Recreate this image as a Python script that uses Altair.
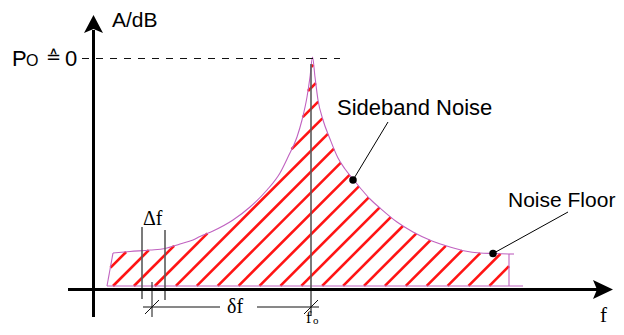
import altair as alt
import numpy as np
import pandas as pd

# ---------------- data (diagram coordinates) ----------------
# phase-noise spectrum outline (left flank, peak, right flank)
curve_x = [113, 130, 150, 165, 180, 193, 200, 213, 233, 250, 267, 280, 288, 297, 302, 307, 310, 312.5,
           315, 318, 323, 330, 338, 345, 353, 362, 370, 380, 397, 413, 432, 450, 465, 480, 493, 509]
curve_y = [253, 251.5, 250, 248.5, 244, 240, 236.5, 231, 220, 207, 190, 173, 157, 137, 120, 97, 77, 57,
           77, 100, 120, 139, 158, 169, 179, 190, 199, 208, 222, 232, 241, 247, 251, 253, 253.5, 254]

# outline closing edges: left edge, bottom, right edge, small right stub
edge_x1 = [113, 107, 509, 509]
edge_y1 = [253, 286, 254, 254]
edge_x2 = [107, 523, 509, 514]
edge_y2 = [286, 286, 286, 254]

baseline_level = 286
left_edge_top = (113, 253)
left_edge_bottom = (107, 286)
right_edge_x = 509
hatch_start = 113
hatch_step = 20.9

# axes
x_axis = dict(x1=68, x2=600, y=289.5, tip=603)
y_axis = dict(x=93.5, y1=317, y2=30, tip=25)

# reference level 0 dB (dashed)
ref_x1, ref_x2, ref_y = 82, 340, 58.5

# gray marker lines: f0, Δf pair
gray_x = [311, 142, 165]
gray_y1 = [64, 227, 230]
gray_y2 = [316, 299, 300]

# black dimension lines for δf
dim_x1 = [152, 143, 257, 145, 304]
dim_y1 = [282, 307, 307, 314, 314]
dim_x2 = [152, 220, 319, 159, 318]
dim_y2 = [317, 307, 307, 300, 300]

# annotation dots and leader lines
dot_x = [353, 493]
dot_y = [180, 253.5]
leader_x2 = [388, 568]
leader_y2 = [122, 212]

# text labels
sans_text = ["A/dB", "P", "O", "0", "Sideband Noise", "Noise Floor"]
sans_x = [112, 12, 26, 65, 337, 508]
sans_y = [27, 66, 66, 66, 115, 207]
sans_size = [21, 22, 16, 22, 22, 21]

serif_text = ["Δf", "δf", "f", "f", "o"]
serif_x = [143, 227, 600, 306, 313]
serif_y = [225, 313, 322, 322.5, 324]
serif_size = [20, 20, 21, 16, 11]

corr_text = ["≙"]
corr_x = [53.5]
corr_y = [63]

# ---------------- scales ----------------
xs = alt.Scale(domain=[8, 616], nice=False, zero=False)
ys = alt.Scale(domain=[8, 327], reverse=True, nice=False, zero=False)


def X(f="x"):
    return alt.X(f"{f}:Q", scale=xs, axis=None)


def Y(f="y"):
    return alt.Y(f"{f}:Q", scale=ys, axis=None)


# ---------------- hatch (clipped diagonal lines) ----------------
cx = np.array(curve_x, float)
cy = np.array(curve_y, float)


def left_x(y):
    (xt, yt), (xb, yb) = left_edge_top, left_edge_bottom
    return xb + (yb - y) * (xt - xb) / (yb - yt)


segs = []
for k in range(-2, 21):
    x0 = hatch_start + hatch_step * k
    xx = np.arange(x0 - 40, x0 + 300, 0.2)
    yy = baseline_level - (xx - x0)
    inside = (yy <= baseline_level) & (yy >= np.interp(xx, cx, cy)) & (xx >= left_x(yy)) & \
             (xx <= right_edge_x) & (xx >= cx.min() - 6)
    idx = np.where(inside)[0]
    if len(idx) == 0:
        continue
    runs = np.split(idx, np.where(np.diff(idx) > 1)[0] + 1)
    for r in runs:
        if len(r) < 5:
            continue
        segs.append(dict(x=xx[r[0]], y=yy[r[0]], x2=xx[r[-1]], y2=yy[r[-1]]))
hatch_df = pd.DataFrame(segs)

hatch = alt.Chart(hatch_df).mark_rule(color="#ff1414", strokeWidth=2.6, strokeCap="butt").encode(
    x=X(), y=Y(), x2="x2:Q", y2="y2:Q")

curve = alt.Chart(pd.DataFrame({"x": curve_x, "y": curve_y})).mark_line(
    color="#c062c0", strokeWidth=1.1, interpolate="monotone").encode(x=X(), y=Y())

edges = alt.Chart(pd.DataFrame({"x": edge_x1, "y": edge_y1, "x2": edge_x2, "y2": edge_y2})).mark_rule(
    color="#c062c0", strokeWidth=1.1).encode(x=X(), y=Y(), x2="x2:Q", y2="y2:Q")

gray = alt.Chart(pd.DataFrame({"x": gray_x, "y": gray_y1, "y2": gray_y2})).mark_rule(
    color="#5a5a5a", strokeWidth=1.6).encode(x=X(), y=Y(), y2="y2:Q")

dims = alt.Chart(pd.DataFrame({"x": dim_x1, "y": dim_y1, "x2": dim_x2, "y2": dim_y2})).mark_rule(
    color="#111111", strokeWidth=1).encode(x=X(), y=Y(), x2="x2:Q", y2="y2:Q")

ref = alt.Chart(pd.DataFrame({"x": [ref_x1], "x2": [ref_x2], "y": [ref_y]})).mark_rule(
    color="#111111", strokeWidth=1, strokeDash=[7, 7]).encode(x=X(), x2="x2:Q", y=Y())

xaxis_line = alt.Chart(pd.DataFrame({"x": [x_axis["x1"]], "x2": [x_axis["x2"]], "y": [x_axis["y"]]})).mark_rule(
    color="black", strokeWidth=3).encode(x=X(), x2="x2:Q", y=Y())
yaxis_line = alt.Chart(pd.DataFrame({"x": [y_axis["x"]], "y": [y_axis["y1"]], "y2": [y_axis["y2"]]})).mark_rule(
    color="black", strokeWidth=3).encode(x=X(), y=Y(), y2="y2:Q")

arrow_right = "M1,0 L-1,-0.95 L-0.6,0 L-1,0.95 Z"
arrow_up = "M0,-1 L0.95,0.8 L0,0.4 L-0.95,0.8 Z"
xhead = alt.Chart(pd.DataFrame({"x": [x_axis["tip"]], "y": [x_axis["y"]]})).mark_point(
    shape=arrow_right, filled=True, size=400, color="black", opacity=1, strokeWidth=0).encode(x=X(), y=Y())
yhead = alt.Chart(pd.DataFrame({"x": [y_axis["x"]], "y": [y_axis["tip"]]})).mark_point(
    shape=arrow_up, filled=True, size=400, color="black", opacity=1, strokeWidth=0).encode(x=X(), y=Y())

leaders = alt.Chart(pd.DataFrame({"x": dot_x, "y": dot_y, "x2": leader_x2, "y2": leader_y2})).mark_rule(
    color="black", strokeWidth=1).encode(x=X(), y=Y(), x2="x2:Q", y2="y2:Q")
dots = alt.Chart(pd.DataFrame({"x": dot_x, "y": dot_y})).mark_point(
    shape="circle", filled=True, size=56, color="black", opacity=1).encode(x=X(), y=Y())

sans = alt.Chart(pd.DataFrame({"t": sans_text, "x": sans_x, "y": sans_y, "s": sans_size})).mark_text(
    font="Liberation Sans", align="left", baseline="alphabetic", color="black").encode(
    x=X(), y=Y(), text="t:N", size=alt.Size("s:Q", scale=None))
serif = alt.Chart(pd.DataFrame({"t": serif_text, "x": serif_x, "y": serif_y, "s": serif_size})).mark_text(
    font="Liberation Serif", align="left", baseline="alphabetic", color="black").encode(
    x=X(), y=Y(), text="t:N", size=alt.Size("s:Q", scale=None))
corr = alt.Chart(pd.DataFrame({"t": corr_text, "x": corr_x, "y": corr_y})).mark_text(
    font="DejaVu Sans", align="center", baseline="alphabetic", color="black", fontSize=18).encode(
    x=X(), y=Y(), text="t:N")

chart = alt.layer(
    hatch, curve, edges, gray, dims, ref, xaxis_line, yaxis_line, xhead, yhead,
    leaders, dots, sans, serif, corr
).properties(
    width=608, height=319, padding=0, autosize=alt.AutoSizeParams(type="none"), background="white"
).configure_view(stroke=None)

chart.save("out.html", embed_options={"renderer": "svg", "actions": False})
